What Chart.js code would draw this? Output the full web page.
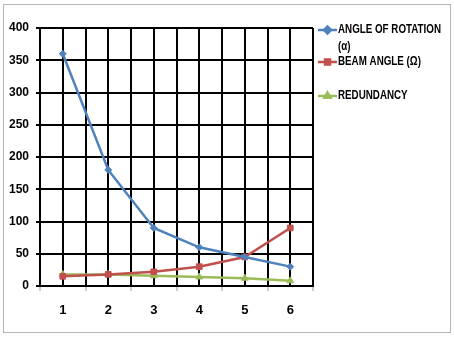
<!DOCTYPE html>
<html>
<head>
<meta charset="utf-8">
<script src="https://cdn.jsdelivr.net/npm/chart.js@4/dist/chart.umd.min.js"></script>
<style>
  html, body { margin: 0; padding: 0; background: #fff; }
  #wrap { position: relative; width: 454px; height: 337px; }
  #frame { position: absolute; left: 3px; top: 4px; width: 446px; height: 327px; border: 1px solid #b5b5b5; }
  canvas { position: absolute; left: 0; top: 0; }
</style>
</head>
<body>
<div id="wrap">
  <div id="frame"></div>
  <canvas id="chart" width="454" height="337"></canvas>
</div>
<script>
// data
var categories = [1, 2, 3, 4, 5, 6];
var rotation = [360, 180, 90, 60, 45, 30];
var beamAngle = [15, 18, 22, 30, 45, 90];
var redundancy = [18, 18, 16, 14, 12, 8];
var yTicks = [0, 50, 100, 150, 200, 250, 300, 350, 400];

var seriesNames = [["ANGLE OF ROTATION", "(\u03b1)"], ["BEAM ANGLE (\u03a9)"], ["REDUNDANCY"]];
var seriesColors = ["#4F81BD", "#C0504D", "#9BBB59"];
var seriesMarkers = ["rectRot", "rect", "triangle"];

function points(vals) {
  return categories.map(function (c, i) { return { x: c, y: vals[i] }; });
}

var font = "'Liberation Sans', Arial, sans-serif";

// legend drawn at the right, like the spreadsheet one (narrow text)
var sideLegend = {
  id: "sideLegend",
  afterDraw: function (chart) {
    var ctx = chart.ctx;
    var rows = [30, 62, 96];
    ctx.save();
    ctx.font = "bold 12px " + font;
    ctx.textBaseline = "middle";
    var sx = 103 / ctx.measureText(seriesNames[0][0]).width;
    chart.data.datasets.forEach(function (ds, i) {
      var y = rows[i];
      ctx.strokeStyle = ds.borderColor;
      ctx.lineWidth = 2.5;
      ctx.beginPath();
      ctx.moveTo(318, y);
      ctx.lineTo(337, y);
      ctx.stroke();
      ctx.fillStyle = ds.borderColor;
      Chart.helpers.drawPoint(ctx, { pointStyle: ds.pointStyle, radius: 3.5, borderWidth: 1 }, 327.5, y);
      ctx.fillStyle = "#000";
      seriesNames[i].forEach(function (t, k) {
        ctx.save();
        ctx.translate(338, y + k * 17);
        ctx.scale(sx, 1);
        ctx.fillText(t, 0, 0);
        ctx.restore();
      });
    });
    ctx.restore();
  }
};

var datasets = [rotation, beamAngle, redundancy].map(function (vals, i) {
  return {
    data: points(vals),
    borderColor: seriesColors[i],
    backgroundColor: seriesColors[i],
    borderWidth: 2.5,
    pointStyle: seriesMarkers[i],
    pointRadius: i === 0 ? 3.5 : 4,
    pointBorderWidth: 1,
    tension: 0
  };
});

new Chart(document.getElementById("chart"), {
  type: "line",
  data: { datasets: datasets },
  plugins: [sideLegend],
  options: {
    responsive: false,
    animation: false,
    layout: { padding: { left: 0, top: 28, right: 141, bottom: 0 } },
    plugins: { legend: { display: false }, tooltip: { enabled: false } },
    scales: {
      x: {
        type: "linear",
        min: 0.5,
        max: 6.5,
        afterBuildTicks: function (axis) {
          var t = [];
          for (var v = 0.5; v <= 6.5; v += 0.5) t.push({ value: v });
          axis.ticks = t;
        },
        afterFit: function (axis) { axis.height = 51; },
        grid: {
          color: "#000",
          lineWidth: 2,
          tickLength: 5,
          tickColor: function (c) { return Number.isInteger(c.tick.value) ? "rgba(0,0,0,0)" : "#999"; },
          tickWidth: 1
        },
        border: { color: "#000", width: 2 },
        ticks: {
          autoSkip: false,
          maxRotation: 0,
          padding: 12,
          color: "#000",
          font: { family: font, size: 13, weight: "bold" },
          callback: function (v) { return Number.isInteger(v) ? String(v) : ""; }
        }
      },
      y: {
        min: 0,
        max: 400,
        afterBuildTicks: function (axis) {
          axis.ticks = yTicks.map(function (v) { return { value: v }; });
        },
        afterFit: function (axis) { axis.width = 40; },
        grid: { color: "#000", lineWidth: 2, tickLength: 4, tickColor: "#000" },
        border: { color: "#000", width: 2 },
        ticks: {
          padding: 7,
          color: "#000",
          font: { family: font, size: 12, weight: "bold" }
        }
      }
    }
  }
});
</script>
</body>
</html>
